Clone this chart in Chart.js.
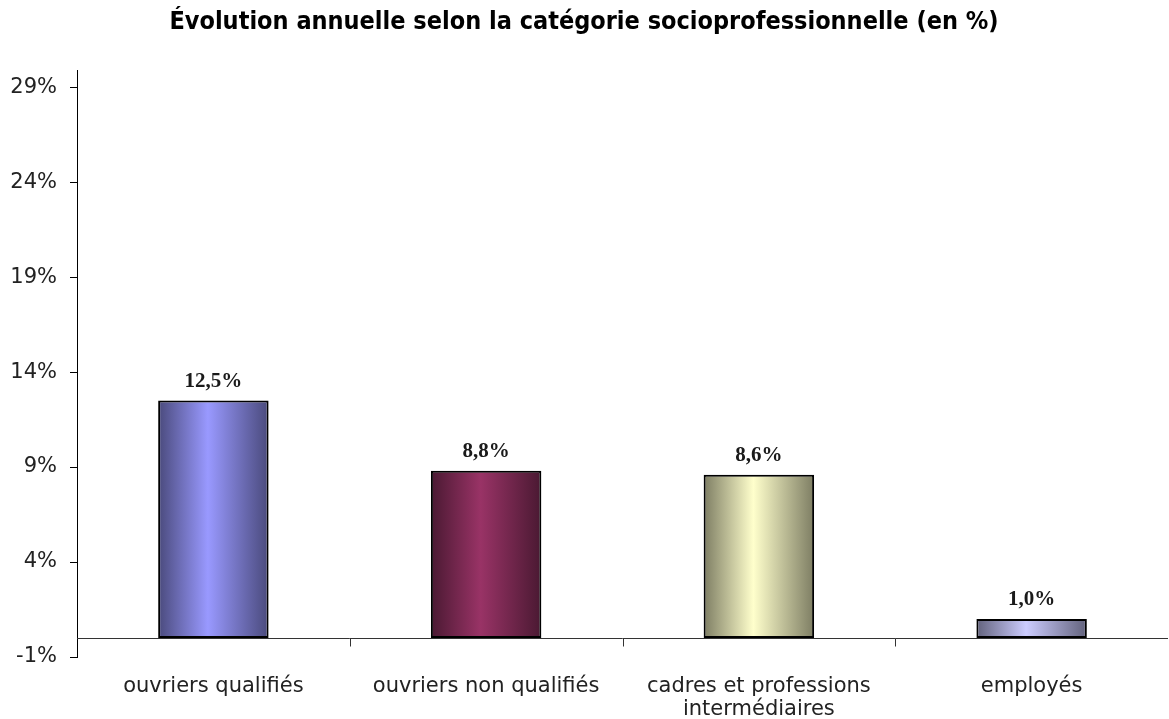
<!DOCTYPE html>
<html lang="fr">
<head>
<meta charset="utf-8">
<title>Évolution annuelle selon la catégorie socioprofessionnelle</title>
<script src="https://cdn.jsdelivr.net/npm/chart.js@4/dist/chart.umd.min.js"></script>
<style>
  html, body { margin: 0; padding: 0; background: #fff; }
  #wrap { width: 1169px; height: 719px; position: relative; }
</style>
</head>
<body>
<div id="wrap"><canvas id="chart"></canvas></div>
<script>
const categories = [
  'ouvriers qualifiés',
  'ouvriers non qualifiés',
  ['cadres et professions', 'intermédiaires'],
  'employés'
];
const values = [12.5, 8.8, 8.6, 1.0];
const yTicks = [-1, 4, 9, 14, 19, 24, 29];

// Excel-ish gradient fills: dark edge -> light centre -> dark edge
const centerColors = ['#9999ff', '#993366', '#ffffcc', '#ccccff'];
const edgeColors = ['#4a4a7c', '#4a1932', '#7d7d63', '#62627c'];

const BAR_PCT = 0.405;

function barFill(context) {
  const chart = context.chart;
  const i = context.dataIndex;
  const xs = chart.scales.x;
  if (!xs || !chart.chartArea) return centerColors[i];
  const catW = xs.width / categories.length;
  const cx = xs.getPixelForValue(i);
  const w = catW * BAR_PCT;
  const g = chart.ctx.createLinearGradient(cx - w / 2, 0, cx + w / 2, 0);
  g.addColorStop(0, edgeColors[i]);
  g.addColorStop(0.45, centerColors[i]);
  g.addColorStop(1, edgeColors[i]);
  return g;
}

// zero line + category separator ticks, like the original
const zeroAxis = {
  id: 'zeroAxis',
  afterDatasetsDraw(chart) {
    const { ctx, chartArea, scales } = chart;
    const y0 = Math.round(scales.y.getPixelForValue(0)) + 0.5;
    ctx.save();
    ctx.strokeStyle = '#333';
    ctx.lineWidth = 1;
    ctx.beginPath();
    ctx.moveTo(chartArea.left, y0);
    ctx.lineTo(chartArea.right, y0);
    const catW = scales.x.width / categories.length;
    for (let k = 1; k < categories.length; k++) {
      const x = Math.round(chartArea.left + k * catW) + 0.5;
      ctx.moveTo(x, y0);
      ctx.lineTo(x, y0 + 8);
    }
    ctx.stroke();
    ctx.restore();
  }
};

const valueLabels = {
  id: 'valueLabels',
  afterDatasetsDraw(chart) {
    const { ctx } = chart;
    const bars = chart.getDatasetMeta(0).data;
    ctx.save();
    ctx.font = 'bold 21px "Liberation Serif", "Times New Roman", serif';
    ctx.fillStyle = '#1a1a1a';
    ctx.textAlign = 'center';
    ctx.textBaseline = 'alphabetic';
    bars.forEach((bar, i) => {
      const txt = values[i].toFixed(1).replace('.', ',') + '%';
      ctx.fillText(txt, bar.x, bar.y - 14);
    });
    ctx.restore();
  }
};

const axisFont = { family: '"DejaVu Sans", Verdana, sans-serif', size: 21, lineHeight: 1.1 };

new Chart(document.getElementById('chart'), {
  type: 'bar',
  data: {
    labels: categories,
    datasets: [{
      data: values,
      backgroundColor: barFill,
      borderColor: '#000',
      borderWidth: 2,
      borderSkipped: false,
      barPercentage: BAR_PCT,
      categoryPercentage: 1
    }]
  },
  options: {
    responsive: true,
    maintainAspectRatio: false,
    animation: false,
    layout: { padding: { left: 0, right: 1, top: 0, bottom: 0 } },
    plugins: {
      legend: { display: false },
      tooltip: { enabled: false },
      title: {
        display: true,
        text: 'Évolution annuelle selon la catégorie socioprofessionnelle (en %)',
        color: '#000',
        font: { family: '"DejaVu Sans Condensed", "Liberation Sans Narrow", "DejaVu Sans", sans-serif', size: 25, weight: 'bold' },
        padding: { top: 7, bottom: 33 }
      }
    },
    scales: {
      x: {
        grid: { display: false },
        border: { display: false },
        ticks: { color: '#222', font: axisFont, padding: 10, maxRotation: 0, autoSkip: false },
        afterFit(scale) { scale.height = 62; }
      },
      y: {
        min: -1,
        max: 29.9,
        afterBuildTicks(scale) { scale.ticks = yTicks.map(v => ({ value: v })); },
        grid: { drawOnChartArea: false, drawTicks: true, tickLength: 7, color: '#000' },
        border: { display: true, color: '#000', width: 1 },
        ticks: {
          color: '#222',
          font: axisFont,
          padding: 13,
          callback: v => v + '%'
        },
        afterFit(scale) { scale.width = 77; }
      }
    }
  },
  plugins: [zeroAxis, valueLabels]
});
</script>
</body>
</html>
